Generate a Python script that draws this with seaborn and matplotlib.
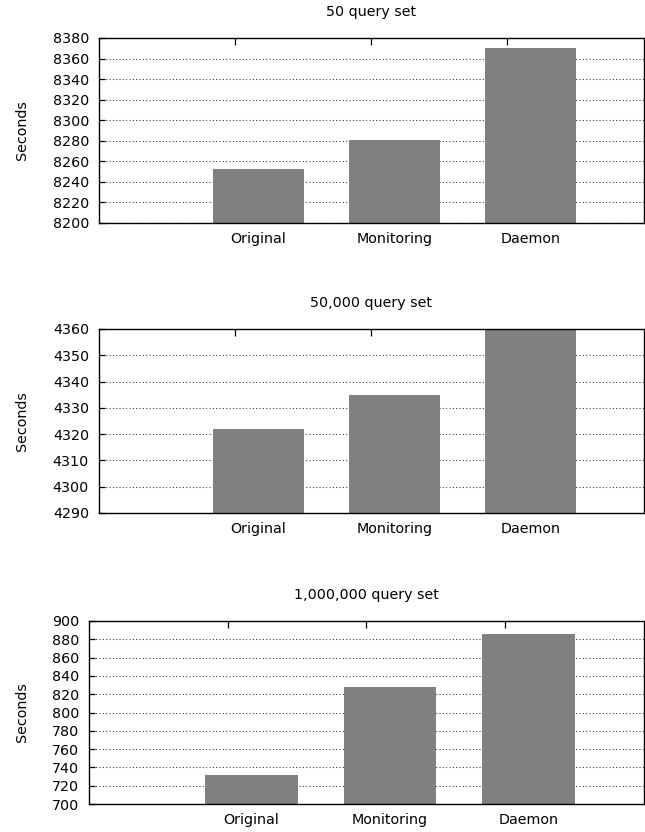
import matplotlib
matplotlib.use("Agg")
import matplotlib.pyplot as plt
from matplotlib.ticker import FixedLocator
import pandas as pd
import seaborn as sns

# Run times per configuration, one array per query set
categories = ["Original", "Monitoring", "Daemon"]
titles = ["50 query set", "50,000 query set", "1,000,000 query set"]
seconds_50 = [8253, 8281, 8370]
seconds_50k = [4322, 4335, 4360]
seconds_1m = [732, 828, 886]
y_ranges = [(8200, 8380), (4290, 4360), (700, 900)]
y_steps = [20, 10, 20]

sns.set_theme(style="white")
plt.rcParams["font.family"] = ["DejaVu Sans"]

FIG_W, FIG_H = 645, 832
fig = plt.figure(figsize=(FIG_W / 100, FIG_H / 100), dpi=100)

# axes boxes in pixel units: left, top, right, bottom
boxes = [(99, 38, 644, 223), (99, 329, 644, 513), (89, 621, 644, 804)]

FS = 10.3
series = [seconds_50, seconds_50k, seconds_1m]

for title, values, (ymin, ymax), step, (l, t, r, b) in zip(titles, series, y_ranges, y_steps, boxes):
    ax = fig.add_axes([l / FIG_W, 1 - b / FIG_H, (r - l) / FIG_W, (b - t) / FIG_H])
    df = pd.DataFrame({"config": categories, "seconds": values})
    sns.barplot(data=df, x="config", y="seconds", color="#808080", saturation=1,
                width=0.67, ax=ax, linewidth=0)
    ax.set_xlim(-1.173, 2.834)
    ax.set_ylim(ymin, ymax)
    yt = list(range(ymin, ymax + 1, step))
    ax.set_yticks(yt)
    ax.set_yticklabels([str(v) for v in yt], fontsize=FS, color="black")

    ax.set_axisbelow(True)
    ax.yaxis.grid(True, color="#303030", linewidth=0.75, linestyle=(0, (1, 2.2)))
    ax.xaxis.grid(False, which="both")

    ax.tick_params(axis="y", direction="in", length=4.5, width=0.9, color="black",
                   pad=7.2, left=True, right=False)
    ax.tick_params(axis="x", which="major", length=0, pad=6.5, labelsize=FS,
                   labelcolor="black", top=False)

    # short tick marks hanging from the top border, kept behind the bars
    ax.xaxis.set_minor_locator(FixedLocator([i - 0.17 for i in range(len(categories))]))
    ax.tick_params(axis="x", which="minor", direction="in", length=5.2, width=0.9,
                   color="black", top=True, bottom=False)

    for sp in ax.spines.values():
        sp.set_visible(True)
        sp.set_color("black")
        sp.set_linewidth(1.0)

    ax.set_xlabel("")
    ax.set_ylabel("Seconds", fontsize=FS, color="black", va="center")
    ax.yaxis.set_label_coords((22 - l) / (r - l), 0.5)
    ax.text(0.5, 1 + 26 / (b - t), title, transform=ax.transAxes, ha="center",
            va="center", fontsize=FS, color="black")

fig.savefig("out.png", dpi=100)
